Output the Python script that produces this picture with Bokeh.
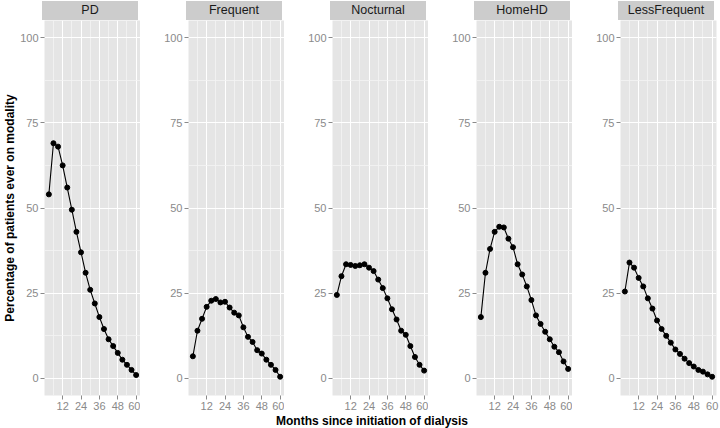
from bokeh.plotting import figure
from bokeh.layouts import row, column
from bokeh.models import FixedTicker, Range1d, Div
from bokeh.embed import file_html
from bokeh.resources import INLINE

months = list(range(3, 61, 3))
modalities = ["PD", "Frequent", "Nocturnal", "HomeHD", "LessFrequent"]
pd_pct = [54, 69, 68, 62.5, 56, 49.5, 43, 37, 31, 26, 22, 18, 14.5, 11.5, 9.5, 7.5, 5.5, 4, 2.5, 1]
frequent_pct = [6.5, 14, 17.5, 21, 22.8, 23.3, 22.3, 22.5, 20.8, 19.3, 18.5, 15, 12.2, 10.7, 8.3, 7.3, 5.5, 4, 2.5, 0.5]
nocturnal_pct = [24.5, 30, 33.5, 33.3, 33, 33.2, 33.5, 32.5, 31.5, 29, 26.5, 23.5, 20.3, 17.3, 14, 12.8, 9.5, 6.3, 4, 2.3]
homehd_pct = [18, 31, 38, 43, 44.5, 44.3, 41, 38.5, 33.5, 30.5, 27, 23, 18.5, 16, 13.7, 11.5, 9.3, 7.7, 5, 2.8]
lessfrequent_pct = [25.5, 34, 32.5, 29.5, 27, 23.5, 20.5, 17, 14.5, 12.5, 10.5, 8.5, 7.2, 5.8, 4.5, 3.5, 2.5, 2, 1.2, 0.5]
series = [pd_pct, frequent_pct, nocturnal_pct, homehd_pct, lessfrequent_pct]

x_ticks = [12, 24, 36, 48, 60]
x_minor = [6, 18, 30, 42, 54]
y_ticks = [0, 25, 50, 75, 100]
y_minor = [12.5, 37.5, 62.5, 87.5]

FONT = "Liberation Sans"
FW = 96
figs = []
strips = []
for i, (name, vals) in enumerate(zip(modalities, series)):
    first = i == 0
    last = i == len(modalities) - 1
    lb = 42 if first else 48
    p = figure(frame_width=FW, frame_height=375, output_backend="svg", toolbar_location=None,
               x_range=Range1d(0.15, 62.85), y_range=Range1d(-5, 105),
               min_border_left=lb, min_border_right=5 if last else 0,
               min_border_top=0, min_border_bottom=0,
               background_fill_color="#E5E5E5", border_fill_color="white",
               outline_line_color=None)
    p.title.visible = False

    xt = FixedTicker(ticks=x_ticks, minor_ticks=x_minor)
    yt = FixedTicker(ticks=y_ticks, minor_ticks=y_minor)
    p.xaxis.ticker = xt
    p.yaxis.ticker = yt
    p.xgrid.ticker = xt
    p.ygrid.ticker = yt
    for ax in (p.xaxis, p.yaxis):
        ax.axis_line_color = None
        ax.minor_tick_line_color = None
        ax.major_tick_line_color = "#8A8A8A"
        ax.major_tick_out = 4
        ax.major_tick_in = 0
        ax.major_label_text_color = "#8A8A8A"
        ax.major_label_text_font = FONT
        ax.major_label_text_font_size = "11px"
        ax.major_label_standoff = 2
    for g in (p.xgrid, p.ygrid):
        g.grid_line_color = "white"
        g.grid_line_width = 1
        g.minor_grid_line_color = "#F4F4F4"
        g.minor_grid_line_width = 0.8
    if first:
        p.yaxis.axis_label = "Percentage of patients ever on modality"
        p.yaxis.axis_label_text_font = FONT
        p.yaxis.axis_label_text_font_style = "bold"
        p.yaxis.axis_label_text_font_size = "12px"
        p.yaxis.axis_label_text_color = "black"
        p.yaxis.axis_label_standoff = 0

    p.line(months, vals, line_color="black", line_width=1.1)
    p.scatter(months, vals, size=5, color="black")
    figs.append(p)

    strips.append(Div(text=name, width=FW, height=19, margin=(1, 0, 0, lb),
                      styles={"background-color": "#CCCCCC", "text-align": "center",
                              "font-family": FONT, "font-size": "12.5px", "color": "#1A1A1A",
                              "line-height": "19px"}))

xlabel = Div(text="Months since initiation of dialysis", width=719, height=11,
             styles={"text-align": "center", "font-family": FONT, "font-weight": "bold",
                     "font-size": "12px", "color": "black", "line-height": "8px",
                     "padding-left": "15px"})

layout = column(row(*strips), row(*figs), xlabel)
open("out.html", "w").write(file_html(layout, INLINE))
